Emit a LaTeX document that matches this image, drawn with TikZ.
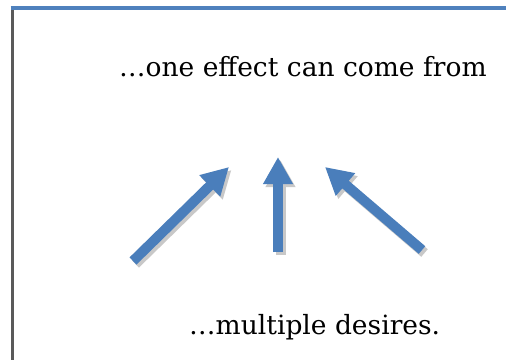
\documentclass[tikz,border=0pt]{standalone}
\usepackage{fontspec}
\setmainfont{DejaVu Serif}
\usetikzlibrary{arrows.meta}
\definecolor{frameblue}{HTML}{4F81BD}
\definecolor{framegray}{HTML}{5A5A5A}
\definecolor{arrowblue}{HTML}{4A7EBB}
\definecolor{shadowgray}{HTML}{C8C8C8}
\tikzset{
  caption/.style={anchor=base west, inner sep=0pt, font=\fontsize{26.5}{30}\selectfont},
  bigarrow/.style={line width=10pt, draw=arrowblue,
    -{Triangle[width=28pt,length=27pt]}, fill=arrowblue},
  arrowshadow/.style={line width=10pt, draw=shadowgray,
    -{Triangle[width=28pt,length=27pt]}, fill=shadowgray},
  drop/.style={shift={(2.5,3)}},
}
\begin{document}
\begin{tikzpicture}[x=1pt,y=-1pt]
\useasboundingbox (0,0) rectangle (506,360);
% frame edges
\draw[framegray, line width=3pt] (12,6) -- (12,360);
\draw[frameblue, line width=3.2pt] (10.5,8) -- (506,8);
% captions
\node[caption] (top) at (119,76.7) {…one effect can come from};
\node[caption] (bottom) at (189,334) {…multiple desires.};
% arrow end points
\coordinate (lt) at (133,261); \coordinate (lh) at (229,167);
\coordinate (mt) at (278,252); \coordinate (mh) at (278,157);
\coordinate (rt) at (422,250); \coordinate (rh) at (325,167);
% drop shadows
\draw[arrowshadow] ([drop]lt) -- ([drop]lh);
\draw[arrowshadow] ([drop]mt) -- ([drop]mh);
\draw[arrowshadow] ([drop]rt) -- ([drop]rh);
% arrows
\draw[bigarrow] (lt) -- (lh);
\draw[bigarrow] (mt) -- (mh);
\draw[bigarrow] (rt) -- (rh);
\end{tikzpicture}
\end{document}
